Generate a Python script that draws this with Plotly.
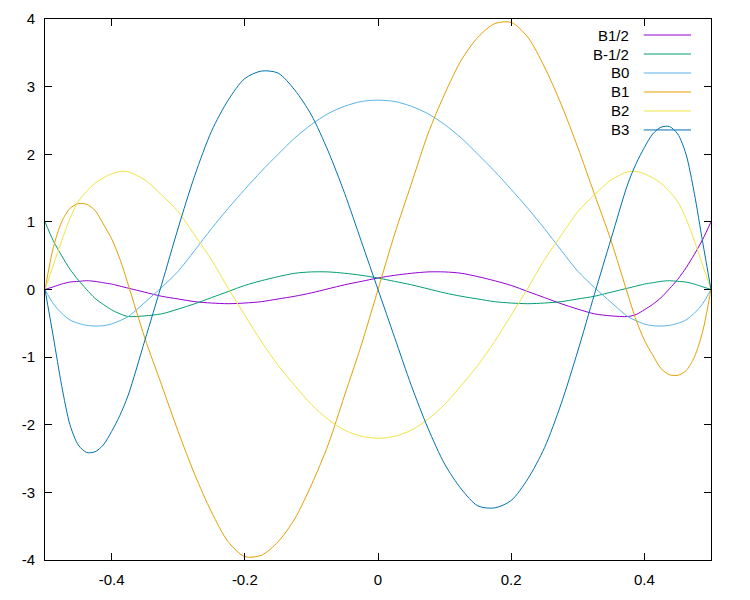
import plotly.graph_objects as go

# sample positions along x (denser near the ends, where the curves bend fast)
x = [-0.5, -0.4875, -0.475, -0.4625, -0.45, -0.4375, -0.425, -0.4125, -0.4, -0.3875, -0.375,
     -0.35, -0.325, -0.3, -0.275, -0.25, -0.225, -0.2, -0.175, -0.15, -0.125,
     -0.1, -0.075, -0.05, -0.025, 0.0, 0.025, 0.05, 0.075, 0.1, 0.125,
     0.15, 0.175, 0.2, 0.225, 0.25, 0.275, 0.3, 0.325, 0.35,
     0.375, 0.3875, 0.4, 0.4125, 0.425, 0.4375, 0.45, 0.4625, 0.475, 0.4875, 0.5]

# values
b_half = [0.0, 0.04, 0.08, 0.11, 0.12, 0.13, 0.12, 0.10, 0.08, 0.05, 0.02,
          -0.04, -0.10, -0.14, -0.18, -0.20, -0.21, -0.20, -0.18, -0.14, -0.10,
          -0.05, 0.01, 0.07, 0.12, 0.17, 0.21, 0.24, 0.26, 0.26, 0.24,
          0.19, 0.13, 0.06, -0.03, -0.12, -0.21, -0.29, -0.36, -0.39,
          -0.40, -0.37, -0.30, -0.22, -0.12, 0.01, 0.15, 0.32, 0.52, 0.74, 1.0]

b_mhalf = [1.0, 0.72, 0.50, 0.30, 0.14, 0.0, -0.13, -0.22, -0.30, -0.36, -0.40,
           -0.39, -0.36, -0.29, -0.21, -0.12, -0.03, 0.06, 0.13, 0.19, 0.24,
           0.26, 0.26, 0.24, 0.21, 0.17, 0.12, 0.07, 0.01, -0.05, -0.10,
           -0.14, -0.18, -0.20, -0.21, -0.20, -0.18, -0.14, -0.10, -0.04,
           0.02, 0.05, 0.08, 0.10, 0.12, 0.13, 0.12, 0.11, 0.08, 0.04, 0.0]

b0 = [0.0, -0.21, -0.35, -0.45, -0.50, -0.53, -0.54, -0.535, -0.51, -0.46, -0.40,
      -0.19, 0.03, 0.27, 0.58, 0.90, 1.20, 1.48, 1.75, 2.00, 2.24,
      2.44, 2.60, 2.71, 2.78, 2.80, 2.78, 2.71, 2.60, 2.44, 2.24,
      2.00, 1.75, 1.48, 1.20, 0.90, 0.58, 0.27, 0.03, -0.19,
      -0.40, -0.46, -0.51, -0.535, -0.54, -0.53, -0.50, -0.45, -0.35, -0.21, 0.0]

b1 = [0.0, 0.62, 1.0, 1.20, 1.27, 1.26, 1.17, 0.97, 0.75, 0.45, 0.07,
      -0.72, -1.41, -2.10, -2.74, -3.29, -3.73, -3.95, -3.93, -3.73, -3.39,
      -2.89, -2.30, -1.56, -0.82, 0.0, 0.82, 1.56, 2.30, 2.89, 3.39,
      3.73, 3.93, 3.95, 3.73, 3.29, 2.74, 2.10, 1.41, 0.72,
      -0.07, -0.45, -0.75, -0.97, -1.17, -1.26, -1.27, -1.20, -1.0, -0.62, 0.0]

b2 = [0.0, 0.36, 0.72, 1.05, 1.30, 1.45, 1.57, 1.65, 1.71, 1.745, 1.74,
      1.62, 1.40, 1.15, 0.80, 0.44, 0.02, -0.38, -0.77, -1.12, -1.42,
      -1.70, -1.92, -2.08, -2.17, -2.20, -2.17, -2.08, -1.92, -1.70, -1.42,
      -1.12, -0.77, -0.38, 0.02, 0.44, 0.80, 1.15, 1.40, 1.62,
      1.74, 1.745, 1.71, 1.65, 1.57, 1.45, 1.30, 1.05, 0.72, 0.36, 0.0]

b3 = [0.0, -0.70, -1.42, -2.0, -2.30, -2.41, -2.40, -2.30, -2.10, -1.86, -1.56,
      -0.75, 0.07, 0.91, 1.69, 2.34, 2.80, 3.12, 3.23, 3.20, 2.95,
      2.58, 2.05, 1.42, 0.71, 0.0, -0.71, -1.42, -2.05, -2.58, -2.95,
      -3.20, -3.23, -3.12, -2.80, -2.34, -1.69, -0.91, -0.07, 0.75,
      1.56, 1.86, 2.10, 2.30, 2.40, 2.41, 2.30, 2.0, 1.42, 0.70, 0.0]

names = ["B1/2", "B-1/2", "B0", "B1", "B2", "B3"]
series = [b_half, b_mhalf, b0, b1, b2, b3]
colors = ["#9400d3", "#009e73", "#56b4e9", "#e69f00", "#f0e442", "#0072b2"]

FONT = "Liberation Sans, Arial, sans-serif"

fig = go.Figure()
for name, ys, col in zip(names, series, colors):
    fig.add_trace(go.Scatter(x=x, y=ys, name=name, mode="lines",
                             line=dict(color=col, width=1, shape="spline", smoothing=0.8),
                             showlegend=False))

# gnuplot-like key: text right-aligned, line sample to its right
for i, (name, col) in enumerate(zip(names, colors)):
    yk = 0.9704 - i * 0.0351
    fig.add_annotation(x=0.880, y=yk, xref="paper", yref="paper", text=name,
                       showarrow=False, xanchor="right", yanchor="middle",
                       font=dict(family=FONT, size=15, color="black"))
    fig.add_shape(type="line", xref="paper", yref="paper",
                  x0=0.899, x1=0.970, y0=yk, y1=yk, line=dict(color=col, width=1))

axis_common = dict(showline=True, linecolor="black", linewidth=1, mirror="ticks",
                   ticks="inside", ticklen=7, tickcolor="black", showgrid=False,
                   zeroline=False, automargin=False,
                   tickfont=dict(family=FONT, size=15, color="black"))

fig.update_xaxes(range=[-0.5, 0.5], tickvals=[-0.4, -0.2, 0, 0.2, 0.4],
                 ticktext=["-0.4", "-0.2", "0", "0.2", "0.4"],
                 ticklabelstandoff=6, **axis_common)
fig.update_yaxes(range=[-4, 4], tickvals=[-4, -3, -2, -1, 0, 1, 2, 3, 4],
                 ticktext=["-4", "-3", "-2", "-1", "0", "1", "2", "3", "4"],
                 ticklabelstandoff=6, **axis_common)

# page body has an 8px margin, so the figure is sized to sit inside 750x600
fig.update_layout(width=742, height=592, plot_bgcolor="white", paper_bgcolor="white",
                  margin=dict(l=37, r=39, t=11, b=40), font=dict(family=FONT))

fig.write_html("out.html")
